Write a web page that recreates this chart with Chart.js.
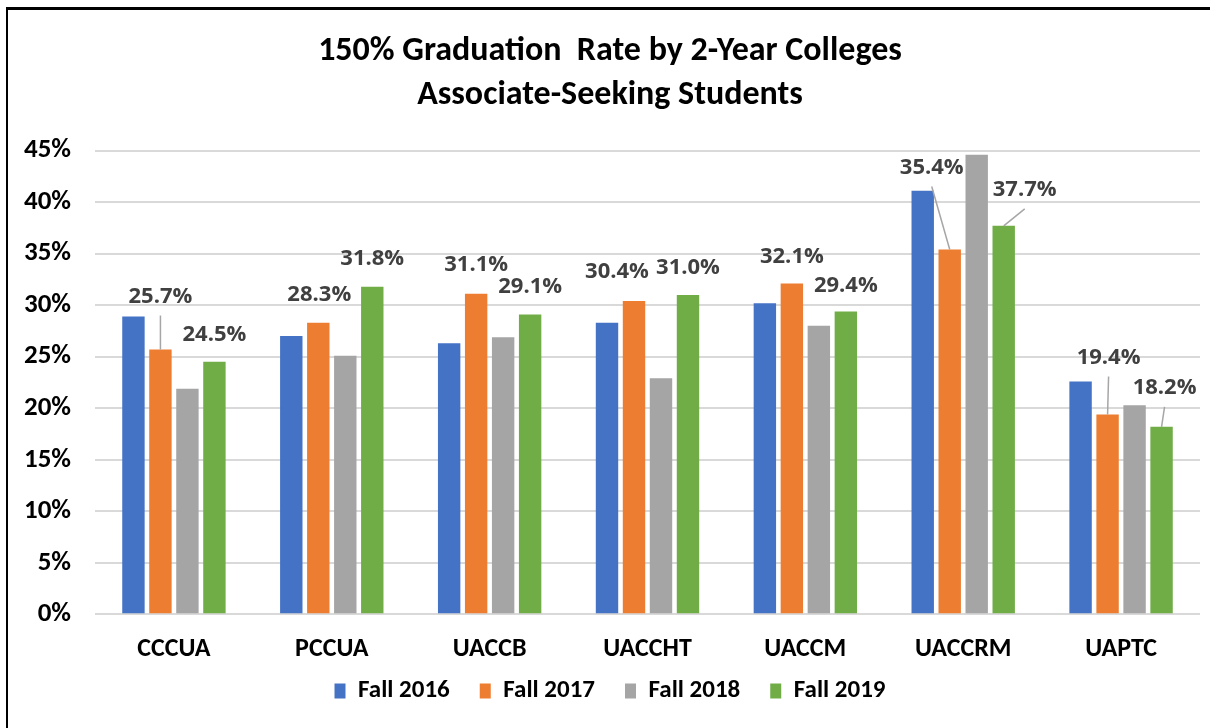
<!DOCTYPE html>
<html>
<head>
<meta charset="utf-8">
<script src="https://cdn.jsdelivr.net/npm/chart.js@4/dist/chart.umd.min.js"></script>
<style>
  html, body { margin: 0; padding: 0; background: #fff; }
  #wrap { position: relative; width: 1210px; height: 728px; }
  #frame { position: absolute; left: 6px; top: 7px; right: 0; bottom: 0;
           border-left: 2px solid #000; border-top: 3px solid #000; pointer-events: none; }
</style>
</head>
<body>
<div id="wrap">
  <canvas id="grad-rate-chart" width="1210" height="728"></canvas>
  <div id="frame"></div>
</div>
<script>
// chart data (percent)
const colleges = ["CCCUA", "PCCUA", "UACCB", "UACCHT", "UACCM", "UACCRM", "UAPTC"];
const fall2016 = [28.9, 27.0, 26.3, 28.3, 30.2, 41.1, 22.6];
const fall2017 = [25.7, 28.3, 31.1, 30.4, 32.1, 35.4, 19.4];
const fall2018 = [21.9, 25.1, 26.9, 22.9, 28.0, 44.6, 20.3];
const fall2019 = [24.5, 31.8, 29.1, 31.0, 29.4, 37.7, 18.2];
const yTicks = [0, 5, 10, 15, 20, 25, 30, 35, 40, 45];

// label placement for the labelled series: [dx, dy, leader line]
const labelPlacement = {
    1: [[0, -53, true], [1, -28], [0, -29], [-17, -29], [0, -27], [-18, -82, true], [1, -57, true]],
    3: [[0, -27], [0, -28], [0, -28], [0, -27], [0, -26], [21, -36, true], [3, -39, true]]
};

const baseFont = "Carlito, Lato, 'Liberation Sans', sans-serif";

const dataLabelPlugin = {
    id: 'dataLabels',
    afterDatasetsDraw(chart) {
        const { ctx } = chart;
        ctx.save();
        Object.keys(labelPlacement).forEach(dsIndex => {
            const meta = chart.getDatasetMeta(+dsIndex);
            const values = chart.data.datasets[dsIndex].data;
            meta.data.forEach((bar, i) => {
                const [dx, dy, leader] = labelPlacement[dsIndex][i];
                const lx = bar.x + dx;
                const ly = bar.y + dy;
                if (leader) {
                    ctx.strokeStyle = '#A6A6A6';
                    ctx.lineWidth = 1.5;
                    ctx.beginPath();
                    ctx.moveTo(lx, ly + 19);
                    ctx.lineTo(bar.x, bar.y);
                    ctx.stroke();
                }
                ctx.fillStyle = '#404040';
                ctx.font = "bold 22px 'Open Sans', sans-serif";
                ctx.textAlign = 'center';
                ctx.textBaseline = 'middle';
                ctx.fillText(values[i].toFixed(1) + '%', lx, ly);
            });
        });
        ctx.restore();
    }
};

// x labels sit partly under the legend box; let them draw past the axis box
const labelRoomPlugin = {
    id: 'labelRoom',
    afterLayout(chart) {
        chart.scales.x.bottom = chart.height;
    }
};

function makeSeries(label, data, color) {
    return {
        label: label,
        data: data,
        backgroundColor: color,
        borderWidth: 0,
        categoryPercentage: 0.684,
        barPercentage: 0.83
    };
}

const ctx = document.getElementById('grad-rate-chart').getContext('2d');

new Chart(ctx, {
    type: 'bar',
    data: {
        labels: colleges,
        datasets: [
            makeSeries('Fall 2016', fall2016, '#4472C4'),
            makeSeries('Fall 2017', fall2017, '#ED7D31'),
            makeSeries('Fall 2018', fall2018, '#A5A5A5'),
            makeSeries('Fall 2019', fall2019, '#70AD47')
        ]
    },
    plugins: [dataLabelPlugin, labelRoomPlugin],
    options: {
        responsive: false,
        animation: false,
        layout: {
            padding: { top: 0, right: 10, bottom: 14.5, left: 20 }
        },
        scales: {
            x: {
                grid: { display: false },
                border: { display: false },
                ticks: {
                    color: '#000',
                    padding: 12,
                    font: { family: baseFont, size: 26, weight: 'bold' }
                },
                afterFit(scale) { scale.height = 34.2; }
            },
            y: {
                min: 0,
                max: 45,
                afterBuildTicks(scale) {
                    scale.ticks = yTicks.map(v => ({ value: v }));
                },
                ticks: {
                    color: '#000',
                    padding: 24,
                    font: { family: baseFont, size: 27, weight: 'bold' },
                    callback: v => v + '%'
                },
                grid: {
                    color: '#D9D9D9',
                    lineWidth: 2,
                    drawTicks: false
                },
                border: { display: false },
                afterFit(scale) { scale.width = 75; }
            }
        },
        plugins: {
            title: {
                display: true,
                text: ['150% Graduation  Rate by 2-Year Colleges', 'Associate-Seeking Students'],
                color: '#000',
                font: { family: baseFont, size: 34, weight: 'bold', lineHeight: 1.27 },
                padding: { top: 30.4, bottom: 33.9 }
            },
            legend: {
                position: 'bottom',
                labels: {
                    color: '#000',
                    boxWidth: 11,
                    boxHeight: 15,
                    padding: 30,
                    font: { family: baseFont, size: 25, weight: 'bold' }
                }
            },
            tooltip: { enabled: false }
        }
    }
});
</script>
</body>
</html>
